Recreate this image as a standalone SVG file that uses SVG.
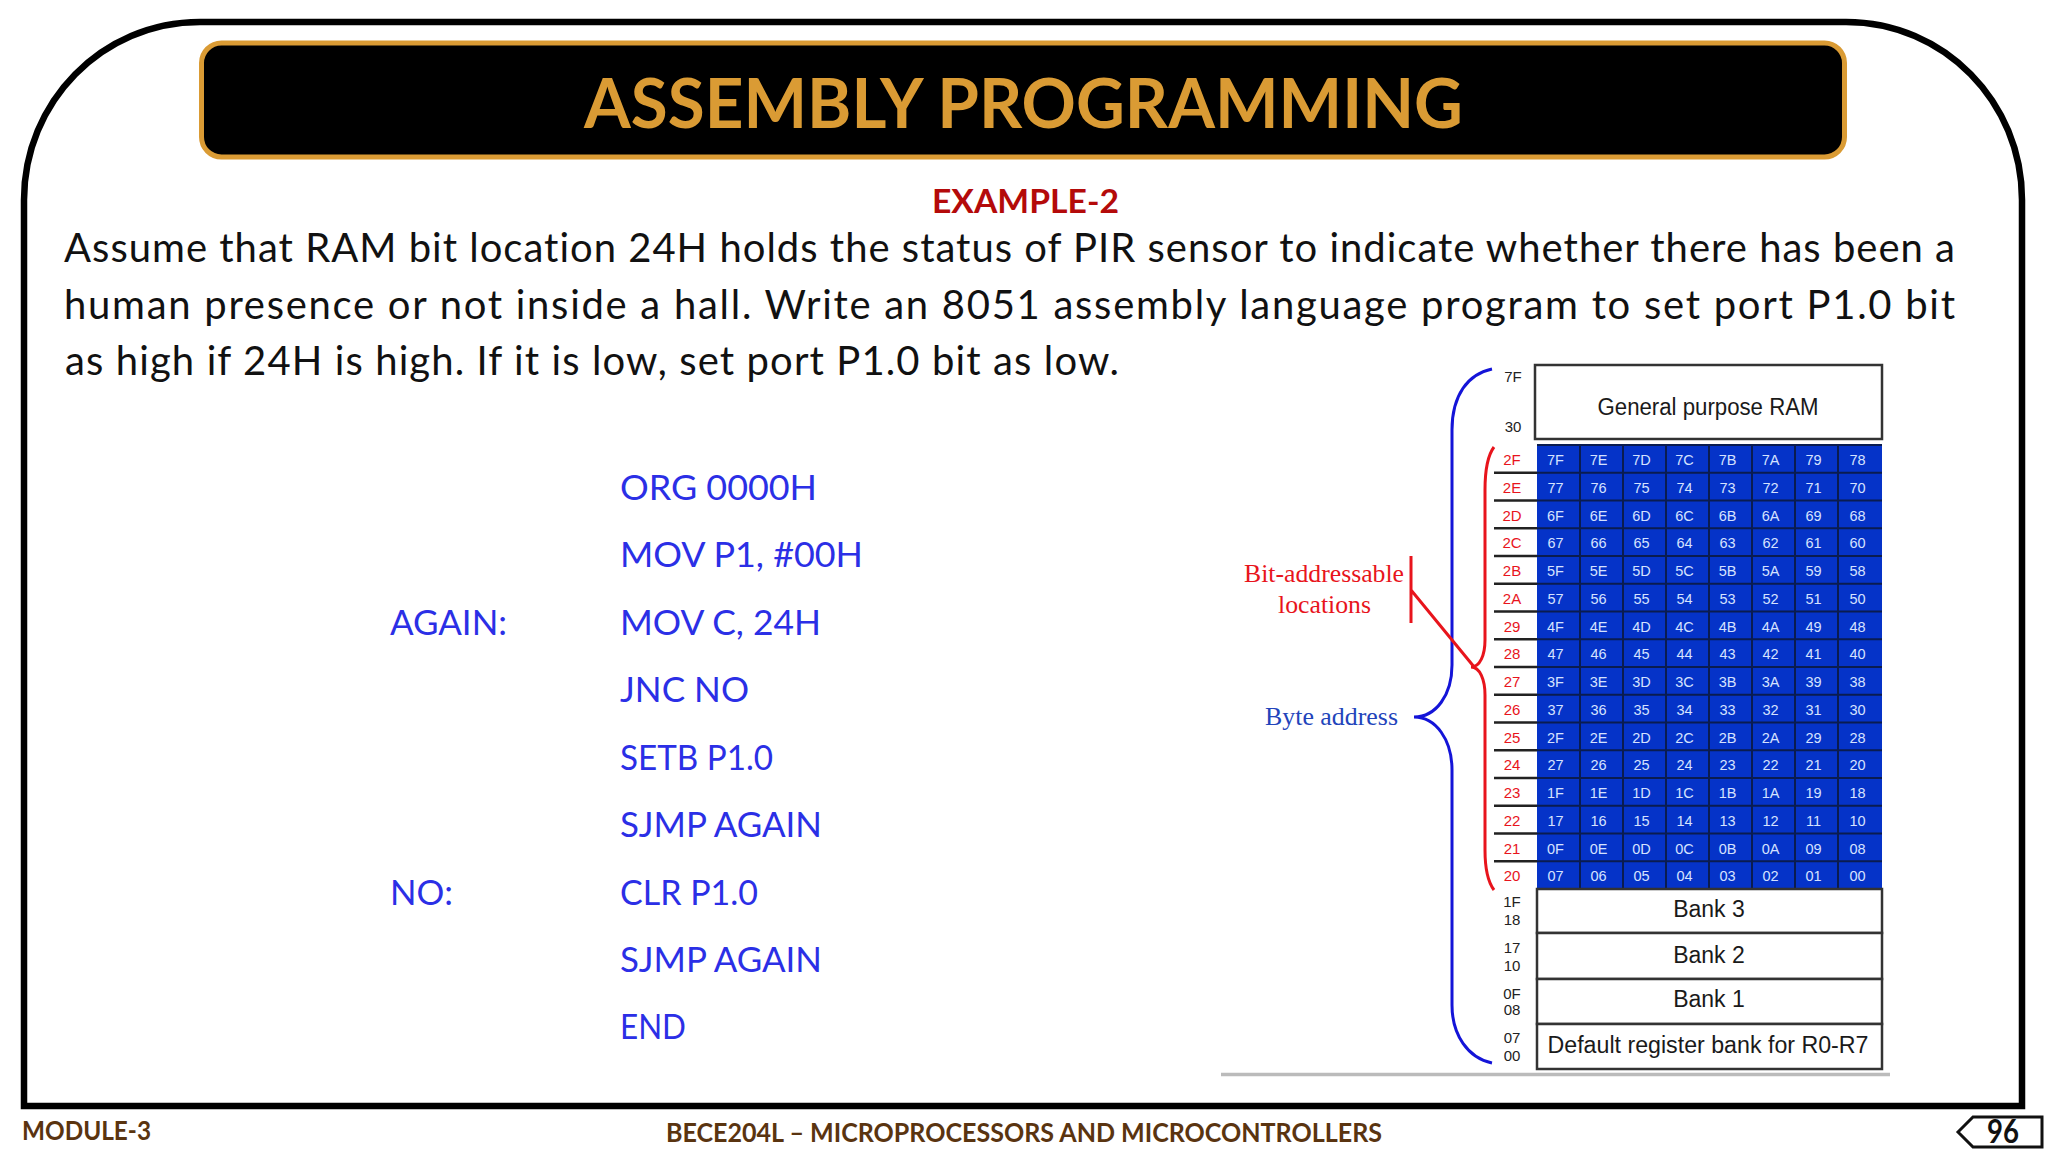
<svg xmlns="http://www.w3.org/2000/svg" width="2048" height="1152" viewBox="0 0 2048 1152">
<style>
text{font-family:"Lato","Noto Sans",sans-serif;font-variant-ligatures:none}
.body{font-size:40px;fill:#111}
.code{font-size:35px;fill:#2b2fe6}
.foot{font-size:26px;font-weight:700;fill:#5a3410}
.cell{font-family:"Liberation Sans",sans-serif;font-size:14.5px;fill:#d5e2ff;text-anchor:middle}
.addr{font-family:"Liberation Sans",sans-serif;font-size:15px;fill:#222;text-anchor:middle}
.red{fill:#e8141c}
.bank{font-family:"Liberation Sans",sans-serif;font-size:23px;fill:#1a1a1a;text-anchor:middle}
.ser{font-family:"Liberation Serif",serif;font-size:26px}
.sep{stroke:#0a1c50;stroke-width:2}
.tick{stroke:#222;stroke-width:2.500}
.box{fill:#fff;stroke:#333;stroke-width:2.500}
</style>
<rect width="2048" height="1152" fill="#fff"/>
<path id="frame" d="M24 1106V200C24 102 102 22 200 22H1846C1944 22 2022 102 2022 200V1106Z" fill="#fff" stroke="#000" stroke-width="6.5"/>
<g id="title">
<rect x="201.500" y="43" width="1643" height="114" rx="20" fill="#000" stroke="#da9b34" stroke-width="5"/>
<text x="584" y="128" font-size="68" font-weight="700" fill="#da9b34" textLength="879" lengthAdjust="spacingAndGlyphs">ASSEMBLY PROGRAMMING</text>
</g>
<g id="question">
<text x="932" y="213" font-size="33" font-weight="700" fill="#b40a0a" textLength="187" lengthAdjust="spacingAndGlyphs">EXAMPLE-2</text>
<text class="body" x="64" y="262" textLength="1891" lengthAdjust="spacing">Assume that RAM bit location 24H holds the status of PIR sensor to indicate whether there has been a</text>
<text class="body" x="64" y="318.500" textLength="1891" lengthAdjust="spacing">human presence or not inside a hall. Write an 8051 assembly language program to set port P1.0 bit</text>
<text class="body" x="65" y="375" textLength="1054" lengthAdjust="spacing">as high if 24H is high. If it is low, set port P1.0 bit as low.</text>
</g>
<g id="code">
<text class="code" x="620" y="500" textLength="197" lengthAdjust="spacingAndGlyphs">ORG 0000H</text>
<text class="code" x="620" y="567" textLength="243" lengthAdjust="spacingAndGlyphs">MOV P1, #00H</text>
<text class="code" x="390" y="635" textLength="117" lengthAdjust="spacingAndGlyphs">AGAIN:</text>
<text class="code" x="620" y="635" textLength="201" lengthAdjust="spacingAndGlyphs">MOV C, 24H</text>
<text class="code" x="620" y="702" textLength="129" lengthAdjust="spacingAndGlyphs">JNC NO</text>
<text class="code" x="620" y="770" textLength="153" lengthAdjust="spacingAndGlyphs">SETB P1.0</text>
<text class="code" x="620" y="837" textLength="202" lengthAdjust="spacingAndGlyphs">SJMP AGAIN</text>
<text class="code" x="390" y="905" textLength="63" lengthAdjust="spacingAndGlyphs">NO:</text>
<text class="code" x="620" y="905" textLength="138" lengthAdjust="spacingAndGlyphs">CLR P1.0</text>
<text class="code" x="620" y="972" textLength="202" lengthAdjust="spacingAndGlyphs">SJMP AGAIN</text>
<text class="code" x="620" y="1039" textLength="66" lengthAdjust="spacingAndGlyphs">END</text>
</g>
<g id="memory-map">
<rect id="gp-ram" class="box" x="1535" y="365" width="347" height="74"/>
<text class="bank" x="1708" y="415" textLength="221" lengthAdjust="spacingAndGlyphs">General purpose RAM</text>
<rect id="grid" x="1537" y="445" width="345" height="444" fill="#0533c8"/>
<g id="grid-lines">
<path class="sep" d="M1537 445H1882M1537 472.800H1882M1537 500.500H1882M1537 528.200H1882M1537 556H1882M1537 583.800H1882M1537 611.500H1882M1537 639.200H1882M1537 667H1882M1537 694.800H1882M1537 722.500H1882M1537 750.200H1882M1537 778H1882M1537 805.800H1882M1537 833.500H1882M1537 861.200H1882M1537 889H1882"/>
<path class="sep" d="M1580 445V889M1623 445V889M1666 445V889M1709 445V889M1752 445V889M1795 445V889M1838 445V889"/>
<path class="tick" d="M1494 472.800H1537M1494 500.500H1537M1494 528.200H1537M1494 556H1537M1494 583.800H1537M1494 611.500H1537M1494 639.200H1537M1494 667H1537M1494 694.800H1537M1494 722.500H1537M1494 750.200H1537M1494 778H1537M1494 805.800H1537M1494 833.500H1537M1494 861.200H1537"/>
</g>
<g id="cells" transform="translate(-2.500,0)">
<g transform="translate(0,465)"><text class="addr red" x="1514.500">2F</text><text class="cell" x="1558">7F</text><text class="cell" x="1601">7E</text><text class="cell" x="1644">7D</text><text class="cell" x="1687">7C</text><text class="cell" x="1730">7B</text><text class="cell" x="1773">7A</text><text class="cell" x="1816">79</text><text class="cell" x="1860">78</text></g>
<g transform="translate(0,493)"><text class="addr red" x="1514.500">2E</text><text class="cell" x="1558">77</text><text class="cell" x="1601">76</text><text class="cell" x="1644">75</text><text class="cell" x="1687">74</text><text class="cell" x="1730">73</text><text class="cell" x="1773">72</text><text class="cell" x="1816">71</text><text class="cell" x="1860">70</text></g>
<g transform="translate(0,520.500)"><text class="addr red" x="1514.500">2D</text><text class="cell" x="1558">6F</text><text class="cell" x="1601">6E</text><text class="cell" x="1644">6D</text><text class="cell" x="1687">6C</text><text class="cell" x="1730">6B</text><text class="cell" x="1773">6A</text><text class="cell" x="1816">69</text><text class="cell" x="1860">68</text></g>
<g transform="translate(0,548)"><text class="addr red" x="1514.500">2C</text><text class="cell" x="1558">67</text><text class="cell" x="1601">66</text><text class="cell" x="1644">65</text><text class="cell" x="1687">64</text><text class="cell" x="1730">63</text><text class="cell" x="1773">62</text><text class="cell" x="1816">61</text><text class="cell" x="1860">60</text></g>
<g transform="translate(0,576)"><text class="addr red" x="1514.500">2B</text><text class="cell" x="1558">5F</text><text class="cell" x="1601">5E</text><text class="cell" x="1644">5D</text><text class="cell" x="1687">5C</text><text class="cell" x="1730">5B</text><text class="cell" x="1773">5A</text><text class="cell" x="1816">59</text><text class="cell" x="1860">58</text></g>
<g transform="translate(0,604)"><text class="addr red" x="1514.500">2A</text><text class="cell" x="1558">57</text><text class="cell" x="1601">56</text><text class="cell" x="1644">55</text><text class="cell" x="1687">54</text><text class="cell" x="1730">53</text><text class="cell" x="1773">52</text><text class="cell" x="1816">51</text><text class="cell" x="1860">50</text></g>
<g transform="translate(0,631.500)"><text class="addr red" x="1514.500">29</text><text class="cell" x="1558">4F</text><text class="cell" x="1601">4E</text><text class="cell" x="1644">4D</text><text class="cell" x="1687">4C</text><text class="cell" x="1730">4B</text><text class="cell" x="1773">4A</text><text class="cell" x="1816">49</text><text class="cell" x="1860">48</text></g>
<g transform="translate(0,659)"><text class="addr red" x="1514.500">28</text><text class="cell" x="1558">47</text><text class="cell" x="1601">46</text><text class="cell" x="1644">45</text><text class="cell" x="1687">44</text><text class="cell" x="1730">43</text><text class="cell" x="1773">42</text><text class="cell" x="1816">41</text><text class="cell" x="1860">40</text></g>
<g transform="translate(0,687)"><text class="addr red" x="1514.500">27</text><text class="cell" x="1558">3F</text><text class="cell" x="1601">3E</text><text class="cell" x="1644">3D</text><text class="cell" x="1687">3C</text><text class="cell" x="1730">3B</text><text class="cell" x="1773">3A</text><text class="cell" x="1816">39</text><text class="cell" x="1860">38</text></g>
<g transform="translate(0,715)"><text class="addr red" x="1514.500">26</text><text class="cell" x="1558">37</text><text class="cell" x="1601">36</text><text class="cell" x="1644">35</text><text class="cell" x="1687">34</text><text class="cell" x="1730">33</text><text class="cell" x="1773">32</text><text class="cell" x="1816">31</text><text class="cell" x="1860">30</text></g>
<g transform="translate(0,742.500)"><text class="addr red" x="1514.500">25</text><text class="cell" x="1558">2F</text><text class="cell" x="1601">2E</text><text class="cell" x="1644">2D</text><text class="cell" x="1687">2C</text><text class="cell" x="1730">2B</text><text class="cell" x="1773">2A</text><text class="cell" x="1816">29</text><text class="cell" x="1860">28</text></g>
<g transform="translate(0,770)"><text class="addr red" x="1514.500">24</text><text class="cell" x="1558">27</text><text class="cell" x="1601">26</text><text class="cell" x="1644">25</text><text class="cell" x="1687">24</text><text class="cell" x="1730">23</text><text class="cell" x="1773">22</text><text class="cell" x="1816">21</text><text class="cell" x="1860">20</text></g>
<g transform="translate(0,798)"><text class="addr red" x="1514.500">23</text><text class="cell" x="1558">1F</text><text class="cell" x="1601">1E</text><text class="cell" x="1644">1D</text><text class="cell" x="1687">1C</text><text class="cell" x="1730">1B</text><text class="cell" x="1773">1A</text><text class="cell" x="1816">19</text><text class="cell" x="1860">18</text></g>
<g transform="translate(0,826)"><text class="addr red" x="1514.500">22</text><text class="cell" x="1558">17</text><text class="cell" x="1601">16</text><text class="cell" x="1644">15</text><text class="cell" x="1687">14</text><text class="cell" x="1730">13</text><text class="cell" x="1773">12</text><text class="cell" x="1816">11</text><text class="cell" x="1860">10</text></g>
<g transform="translate(0,853.500)"><text class="addr red" x="1514.500">21</text><text class="cell" x="1558">0F</text><text class="cell" x="1601">0E</text><text class="cell" x="1644">0D</text><text class="cell" x="1687">0C</text><text class="cell" x="1730">0B</text><text class="cell" x="1773">0A</text><text class="cell" x="1816">09</text><text class="cell" x="1860">08</text></g>
<g transform="translate(0,881)"><text class="addr red" x="1514.500">20</text><text class="cell" x="1558">07</text><text class="cell" x="1601">06</text><text class="cell" x="1644">05</text><text class="cell" x="1687">04</text><text class="cell" x="1730">03</text><text class="cell" x="1773">02</text><text class="cell" x="1816">01</text><text class="cell" x="1860">00</text></g>
</g>
<g id="banks">
<rect class="box" x="1537" y="889" width="345" height="44"/><text class="bank" x="1709" y="917">Bank 3</text>
<rect class="box" x="1537" y="933" width="345" height="46"/><text class="bank" x="1709" y="963">Bank 2</text>
<rect class="box" x="1537" y="979" width="345" height="45"/><text class="bank" x="1709" y="1007">Bank 1</text>
<rect class="box" x="1537" y="1024" width="345" height="45"/><text class="bank" x="1708" y="1053" textLength="321" lengthAdjust="spacingAndGlyphs">Default register bank for R0-R7</text>
</g>
<g id="addresses">
<text class="addr" x="1513" y="382">7F</text><text class="addr" x="1513" y="432">30</text>
<text class="addr" x="1512" y="907">1F</text><text class="addr" x="1512" y="925">18</text>
<text class="addr" x="1512" y="953">17</text><text class="addr" x="1512" y="971">10</text>
<text class="addr" x="1512" y="999">0F</text><text class="addr" x="1512" y="1015">08</text>
<text class="addr" x="1512" y="1043">07</text><text class="addr" x="1512" y="1061">00</text>
</g>
<path id="baseline" d="M1221 1074.500H1890" stroke="#bbb" stroke-width="3.500" fill="none"/>
<g id="connectors" fill="none" stroke-width="3">
<path id="byte-brace" stroke="#1414d8" d="M1492 369C1468 374 1452 395 1452 430V665C1452 695 1436 717 1414 717C1436 717 1452 740 1452 770V1005C1452 1035 1468 1058 1492 1063"/>
<path id="bit-brace" stroke="#e8141c" d="M1494 447C1488 455 1485 470 1485 490V640C1485 655 1480 667 1471 667C1480 667 1485 680 1485 695V850C1485 870 1488 882 1494 890"/>
<path id="bit-leader" stroke="#e8141c" d="M1411 556V623M1411 590L1475 668"/>
</g>
<g id="labels">
<text class="ser" x="1244" y="582" fill="#e8141c" textLength="160" lengthAdjust="spacingAndGlyphs">Bit-addressable</text>
<text class="ser" x="1278" y="613" fill="#e8141c" textLength="93" lengthAdjust="spacingAndGlyphs">locations</text>
<text class="ser" x="1265" y="724.500" fill="#2244bb" textLength="133" lengthAdjust="spacingAndGlyphs">Byte address</text>
</g>
</g>
<g id="footer">
<text class="foot" x="22" y="1140" textLength="129" lengthAdjust="spacingAndGlyphs">MODULE-3</text>
<text class="foot" x="666" y="1142" textLength="716" lengthAdjust="spacingAndGlyphs">BECE204L – MICROPROCESSORS AND MICROCONTROLLERS</text>
<path d="M1958 1132L1973 1117H2042V1147H1973Z" fill="#fff" stroke="#111" stroke-width="3"/>
<text x="1987" y="1143" font-size="32" font-weight="700" fill="#111" textLength="32" lengthAdjust="spacingAndGlyphs">96</text>
</g>
</svg>
